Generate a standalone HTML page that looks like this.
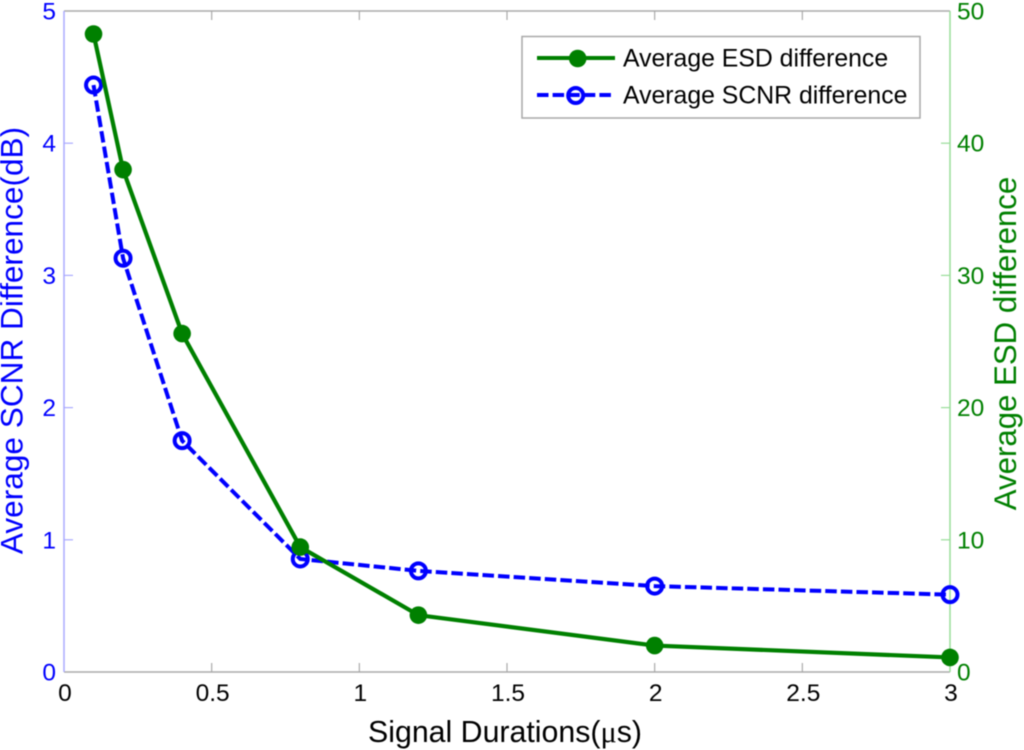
<!DOCTYPE html>
<html lang="en">
<head>
<meta charset="utf-8">
<title>Average ESD and SCNR difference vs signal duration</title>
<style>
html,body{margin:0;padding:0;background:#fff;width:1024px;height:750px;overflow:hidden}
svg{display:block;filter:blur(0.45px)}
text{font-family:"Liberation Sans",Arial,sans-serif}
</style>
</head>
<body>
<svg id="chart" xmlns="http://www.w3.org/2000/svg" width="1024" height="750" viewBox="0 0 1024 750">
  <rect x="0" y="0" width="1024" height="750" fill="#fff"/>
  <g id="axes"></g>
  <g id="series"></g>
  <text x="505" y="742" font-size="30.3" text-anchor="middle" fill="#000">Signal Durations(<tspan font-family="'Liberation Serif',serif">μ</tspan>s)</text>
  <text transform="translate(22.5,340.5) rotate(-90)" font-size="31.6" text-anchor="middle" fill="#0000ff">Average SCNR Difference(dB)</text>
  <text transform="translate(1016,343.5) rotate(-90)" font-size="31.2" text-anchor="middle" fill="#008000">Average ESD difference</text>
  <g>
    <rect x="522" y="36.5" width="398" height="81.5" fill="#fff" stroke="#a8a8a8" stroke-width="1.5"/>
    <line x1="537" y1="58" x2="615" y2="58" stroke="#008000" stroke-width="4"/>
    <circle cx="577.7" cy="58.5" r="8.8" fill="#008000"/>
    <text x="623" y="66.7" font-size="24.8" fill="#000">Average ESD difference</text>
    <line x1="537" y1="95" x2="615" y2="95" stroke="#0000ff" stroke-width="4" stroke-dasharray="11.5 4.1"/>
    <circle cx="575.7" cy="95.5" r="7.5" fill="none" stroke="#0000ff" stroke-width="4"/>
    <text x="623" y="103.5" font-size="24.8" fill="#000">Average SCNR difference</text>
  </g>
</svg>
<script>
const durations = [0.1, 0.2, 0.4, 0.8, 1.2, 2, 3];
const esdValues = [48.26, 38.0, 25.6, 9.45, 4.3, 2.0, 1.1];
const scnrValues = [4.44, 3.13, 1.75, 0.855, 0.765, 0.65, 0.585];
const xTicks = [0, 0.5, 1, 1.5, 2, 2.5, 3];
const leftTicks = [0, 1, 2, 3, 4, 5];
const rightTicks = [0, 10, 20, 30, 40, 50];

const NS = 'http://www.w3.org/2000/svg';
const plotLeft = 64, plotRight = 950, plotTop = 11, plotBottom = 672;
const xScale = v => plotLeft + (v - 0) / 3 * (plotRight - plotLeft);
const leftScale = v => plotBottom - v / 5 * (plotBottom - plotTop);
const rightScale = v => plotBottom - v / 50 * (plotBottom - plotTop);

function make(tag, attrs, parent) {
  const el = document.createElementNS(NS, tag);
  for (const k in attrs) el.setAttribute(k, attrs[k]);
  parent.appendChild(el);
  return el;
}

const axes = document.getElementById('axes');
const seriesGroup = document.getElementById('series');

const topEdge = make('line', {x1: plotLeft, y1: plotTop, x2: plotRight, y2: plotTop, stroke: '#aaaaaa', 'stroke-width': 1.5}, axes);


const bottomEdge = make('line', {x1: plotLeft, y1: plotBottom, x2: plotRight, y2: plotBottom, stroke: '#aaaaaa', 'stroke-width': 1.5}, axes);


const leftEdge = make('line', {x1: plotLeft, y1: plotTop, x2: plotLeft, y2: plotBottom, stroke: '#aaaaff', 'stroke-width': 1.5}, axes);


const rightEdge = make('line', {x1: plotRight, y1: plotTop, x2: plotRight, y2: plotBottom, stroke: '#99dd99', 'stroke-width': 1.5}, axes);



xTicks.forEach(v => {
  const x = xScale(v);
  if (v > 0 && v < 3) {
    const t1 = make('line', {x1: x, y1: plotBottom, x2: x, y2: plotBottom - 9, stroke: '#aaaaaa', 'stroke-width': 1.2}, axes);
    
    
    const t2 = make('line', {x1: x, y1: plotTop, x2: x, y2: plotTop + 9, stroke: '#aaaaaa', 'stroke-width': 1.2}, axes);
    
    
  }
  const label = make('text', {x: x + 1, y: 701, 'font-size': 24.5, 'text-anchor': 'middle', fill: '#000'}, axes);
  
  
  label.textContent = String(v);
});

leftTicks.forEach(v => {
  const y = leftScale(v);
  if (v > 0 && v < 5) {
    const t = make('line', {x1: plotLeft, y1: y, x2: plotLeft + 9, y2: y, stroke: '#aaaaff', 'stroke-width': 1.2}, axes);
    
    
  }
  const label = make('text', {x: 56, y: y + 8.5, 'font-size': 24.5, 'text-anchor': 'end', fill: '#0000ff'}, axes);
  
  
  label.textContent = String(v);
});

rightTicks.forEach(v => {
  const y = rightScale(v);
  if (v > 0 && v < 50) {
    const t = make('line', {x1: plotRight, y1: y, x2: plotRight - 9, y2: y, stroke: '#99dd99', 'stroke-width': 1.2}, axes);
    
    
  }
  const label = make('text', {x: 957, y: y + 8.5, 'font-size': 24.5, 'text-anchor': 'start', fill: '#008000'}, axes);
  
  
  label.textContent = String(v);
});

const scnrPoints = durations.map((d, i) => xScale(d) + ',' + leftScale(scnrValues[i])).join(' ');
const scnrLine = make('polyline', {points: scnrPoints, fill: 'none', stroke: '#0000ff', 'stroke-width': 4, 'stroke-dasharray': '11.5 4.1'}, seriesGroup);



durations.forEach((d, i) => {
  const c = make('circle', {cx: xScale(d), cy: leftScale(scnrValues[i]), r: 7.5, fill: 'none', stroke: '#0000ff', 'stroke-width': 4}, seriesGroup);
  
  
});

const esdPoints = durations.map((d, i) => xScale(d) + ',' + rightScale(esdValues[i])).join(' ');
const esdLine = make('polyline', {points: esdPoints, fill: 'none', stroke: '#008000', 'stroke-width': 4.2}, seriesGroup);



durations.forEach((d, i) => {
  const c = make('circle', {cx: xScale(d), cy: rightScale(esdValues[i]), r: 8.8, fill: '#008000'}, seriesGroup);
  
  
});
</script>
</body>
</html>
